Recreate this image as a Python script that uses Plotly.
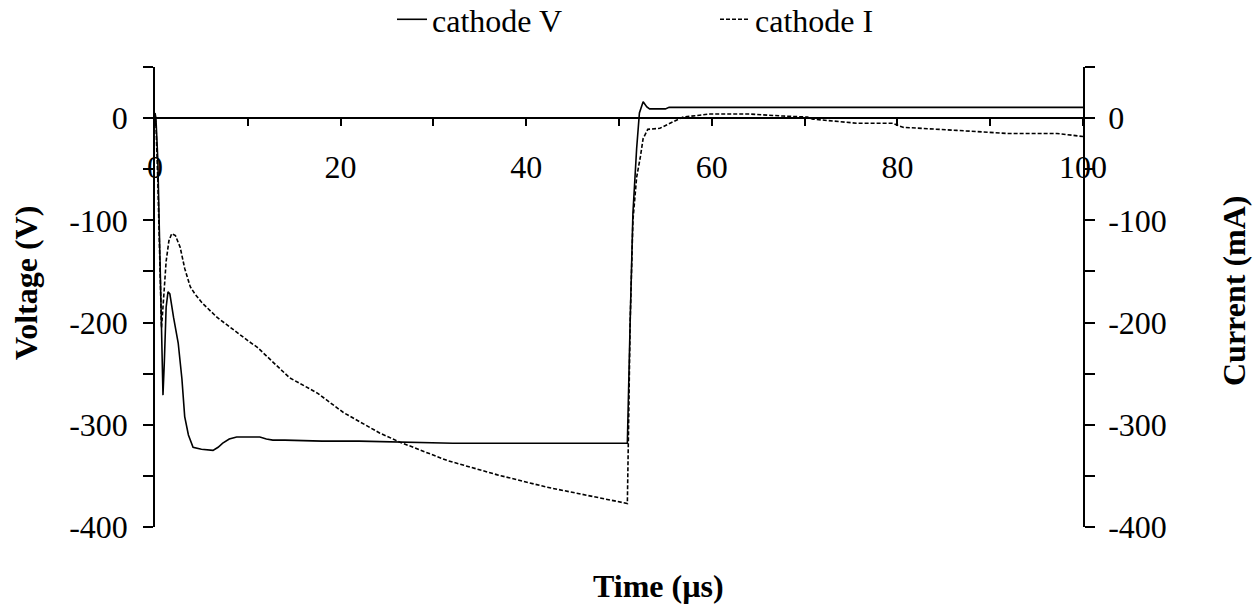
import plotly.graph_objects as go

# ---- data ----
time_v = [0, 0.1, 0.3, 0.5, 0.7, 0.86, 1.0, 1.2, 1.4, 1.6, 2.0, 2.5, 2.9, 3.2, 3.6, 4.1,
          5.0, 6.25, 6.8, 7.3, 8.0, 8.8, 10.0, 11.3, 12.0, 12.7, 14, 18, 22, 26.4, 30,
          32.1, 40, 50.9, 51.2, 51.5, 51.9, 52.2, 52.6, 53.0, 53.3, 55.0, 55.4, 70, 100]
volt = [5, 0, -40, -130, -215, -271, -240, -185, -170, -172, -195, -220, -255, -292, -310, -322,
        -324, -325, -322, -318, -314, -312, -312, -312, -314, -315, -315, -316, -316, -317, -318,
        -318, -318, -318, -200, -93, -30, 5, 16, 11, 9, 9, 10.5, 10.5, 10.5]

time_i = [0, 0.1, 0.3, 0.5, 0.7, 0.9, 1.2, 1.5, 1.8, 2.2, 2.7, 3.2, 3.8, 4.3, 5.1, 6.7, 8.4,
          10.2, 11, 14.5, 17.5, 18.5, 20.3, 24.2, 26.4, 31.5, 36.9, 42.2, 47.6, 49.4, 50.9,
          51.0, 51.2, 51.5, 51.9, 52.3, 52.6, 53.1, 54.4, 55.5, 56.9, 59.8, 64.1, 67.7, 70.3,
          70.9, 75.6, 79.5, 80.6, 86.4, 91.8, 97.2, 100]
curr = [0, -5, -60, -150, -205, -180, -140, -120, -113, -115, -126, -147, -165, -172, -181, -195, -207,
        -219, -224, -254, -269, -276, -288, -308, -317, -335, -349, -361, -371, -374, -377,
        -320, -200, -100, -58, -38, -20, -11, -10, -5, 1, 4, 4, 2, 1,
        -1, -5, -5, -9, -12, -15, -15, -18]

x_tickvals = [0, 10, 20, 30, 40, 50, 60, 70, 80, 90, 100]
x_ticktext = ["0", "", "20", "", "40", "", "60", "", "80", "", "100"]
y_tickvals = [50, 0, -50, -100, -150, -200, -250, -300, -350, -400]
y_ticktext = ["", "0", "", "-100", "", "-200", "", "-300", "", "-400"]

FONT = "Liberation Serif"
FS = 32
YMIN, YMAX = -400, 50

W, H = 1260, 612
L, R, T, B = 155, 177, 67, 85
PW, PH = W - L - R, H - T - B

def px_x(p):
    return (p - L) / PW

def px_y(p):
    return 1 - (p - T) / PH

fig = go.Figure()
fig.add_trace(go.Scatter(x=time_v, y=volt, mode="lines", name="cathode V",
                         line=dict(color="black", width=1.6)))
fig.add_trace(go.Scatter(x=time_i, y=curr, mode="lines", name="cathode I", yaxis="y2",
                         line=dict(color="black", width=1.6, dash="4px,2px")))

axis_common = dict(showgrid=False, zeroline=False, showline=True, linecolor="black",
                   linewidth=1.5, ticks="outside", ticklen=10, tickwidth=1.5, automargin=False,
                   tickcolor="black", tickfont=dict(family=FONT, size=FS, color="black"))

fig.update_layout(
    width=W, height=H,
    margin=dict(l=L, r=R, t=T, b=B, autoexpand=False),
    plot_bgcolor="white", paper_bgcolor="white",
    font=dict(family=FONT, size=FS, color="black"),
    xaxis=dict(range=[0, 100], tickvals=x_tickvals, ticktext=x_ticktext,
               anchor="free", position=(0 - YMIN) / (YMAX - YMIN),
               ticklabelstandoff=14,
               **{**axis_common, "ticklen": 7}),
    yaxis=dict(range=[YMIN, YMAX], tickvals=y_tickvals, ticktext=y_ticktext,
               ticklabelstandoff=9, **axis_common),
    yaxis2=dict(range=[YMIN, YMAX], tickvals=y_tickvals, ticktext=y_ticktext,
                overlaying="y", side="right", ticklabelstandoff=7, **axis_common),
    legend=dict(orientation="h", x=px_x(392), xanchor="left", y=px_y(-8), yref="paper",
                yanchor="top", entrywidth=278,
                font=dict(family=FONT, size=FS), bgcolor="rgba(0,0,0,0)"),
    showlegend=True,
)

fig.add_annotation(text="<b>Time (µs)</b>", xref="paper", yref="paper",
                   x=px_x(658), y=px_y(586), xanchor="center", yanchor="middle",
                   showarrow=False, font=dict(family=FONT, size=FS))
fig.add_annotation(text="<b>Voltage (V)</b>", xref="paper", yref="paper", textangle=-90,
                   x=px_x(26), y=px_y(283), xanchor="center", yanchor="middle",
                   showarrow=False, font=dict(family=FONT, size=FS))
fig.add_annotation(text="<b>Current (mA)</b>", xref="paper", yref="paper", textangle=-90,
                   x=px_x(1234), y=px_y(291), xanchor="center", yanchor="middle",
                   showarrow=False, font=dict(family=FONT, size=FS))

fig.write_html("out.html", config={"displayModeBar": False},
               post_script="document.body.style.margin='0';")
